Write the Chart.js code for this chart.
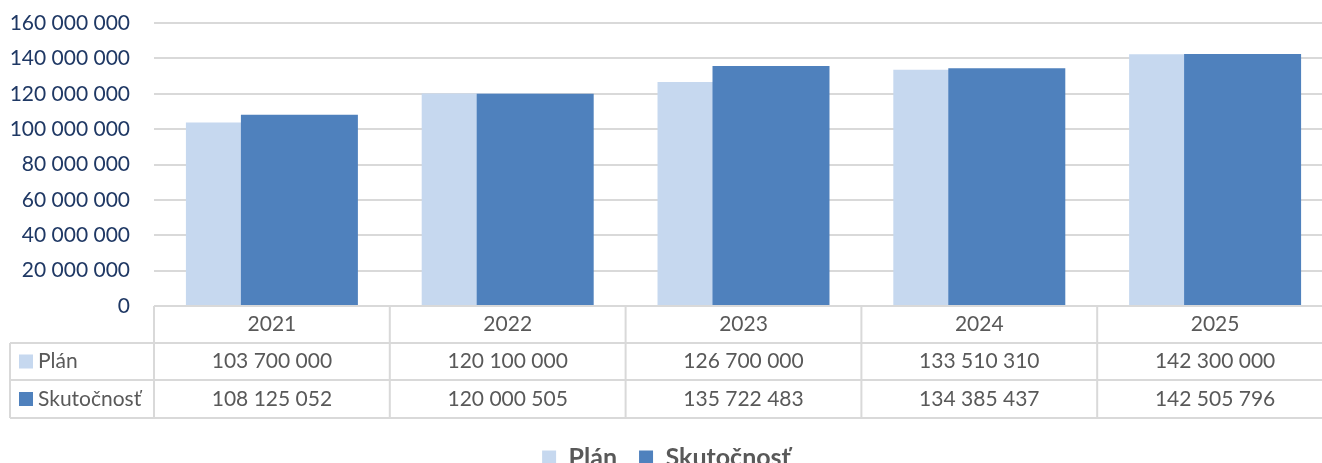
<!DOCTYPE html>
<html>
<head>
<meta charset="utf-8">
<script src="https://cdn.jsdelivr.net/npm/chart.js@4"></script>
<style>
  html, body { margin: 0; padding: 0; background: #fff; overflow: hidden; }
  #wrap { width: 1334px; height: 480px; }
</style>
</head>
<body>
<div id="wrap"><canvas id="myChart" width="1334" height="480"></canvas></div>
<script>
// Données
const years = ["2021", "2022", "2023", "2024", "2025"];
const planValues = [103700000, 120100000, 126700000, 133510310, 142300000];
const actualValues = [108125052, 120000505, 135722483, 134385437, 142505796];
const seriesNames = ["Plán", "Skutočnosť"];

const lightBlue = "#C6D8EF";
const darkBlue = "#4F81BD";
const gridColor = "#D9D9D9";
const textGray = "#595959";
const fontFamily = "Lato, 'Open Sans', sans-serif";

// Format avec espace comme séparateur de milliers
const fmt = (n) => String(n).replace(/\B(?=(\d{3})+(?!\d))/g, " ");

// Dessiner la série "Skutočnosť" par-dessus la série "Plán"
const overlapPlugin = {
  id: "overlapOrder",
  beforeDatasetDraw(chart, args) {
    if (args.index === 1 && !chart._drawingTop) return false;
  },
  afterDatasetsDraw(chart) {
    chart._drawingTop = true;
    chart.getDatasetMeta(1).controller.draw();
    chart._drawingTop = false;
  },
};

// Plugin pour dessiner la table de données sous le graphique
const dataTablePlugin = {
  id: "dataTable",
  afterDraw(chart) {
    const ctx = chart.ctx;
    const area = chart.chartArea;
    const xScale = chart.scales.x;
    const half = (xScale.getPixelForValue(1) - xScale.getPixelForValue(0)) / 2;
    const top = area.bottom;
    const rowH = [37, 37, 38];
    const y1 = top + rowH[0];
    const y2 = y1 + rowH[1];
    const y3 = y2 + rowH[2];
    const tableLeft = 10;

    ctx.save();
    ctx.strokeStyle = gridColor;
    ctx.lineWidth = 2;
    ctx.beginPath();
    // lignes horizontales
    ctx.moveTo(area.left, top); ctx.lineTo(area.right, top);
    [y1, y2, y3].forEach((y) => { ctx.moveTo(tableLeft, y); ctx.lineTo(area.right, y); });
    // lignes verticales
    ctx.moveTo(tableLeft, y1); ctx.lineTo(tableLeft, y3);
    ctx.moveTo(area.left, top); ctx.lineTo(area.left, y3);
    for (let i = 0; i < years.length; i++) {
      const xr = xScale.getPixelForValue(i) + half;
      ctx.moveTo(xr, top); ctx.lineTo(xr, y3);
    }
    ctx.stroke();

    ctx.font = "21px " + fontFamily;
    ctx.fillStyle = textGray;
    ctx.textAlign = "center";
    ctx.textBaseline = "middle";
    years.forEach((yr, i) => {
      const cx = xScale.getPixelForValue(i);
      ctx.fillText(yr, cx, top + rowH[0] / 2);
      ctx.fillText(fmt(planValues[i]), cx, y1 + rowH[1] / 2);
      ctx.fillText(fmt(actualValues[i]), cx, y2 + rowH[2] / 2);
    });

    // légendes des lignes
    ctx.textAlign = "left";
    [[seriesNames[0], lightBlue, y1 + rowH[1] / 2], [seriesNames[1], darkBlue, y2 + rowH[2] / 2]].forEach(([name, col, cy]) => {
      ctx.fillStyle = col;
      ctx.fillRect(19, cy - 7, 14, 14);
      ctx.fillStyle = textGray;
      ctx.fillText(name, 38, cy);
    });
    ctx.restore();
  },
};

const chartOptions = {
  type: "bar",
  data: {
    labels: years,
    datasets: [
      {
        label: seriesNames[0],
        data: planValues,
        backgroundColor: lightBlue,
        categoryPercentage: 0.4665,
        barPercentage: 2.127,
      },
      {
        label: seriesNames[1],
        data: actualValues,
        backgroundColor: darkBlue,
        categoryPercentage: 0.4665,
        barPercentage: 2.127,
      },
    ],
  },
  options: {
    responsive: false,
    animation: false,
    layout: { padding: { top: 23, right: 1, left: 0, bottom: 0 } },
    plugins: {
      tooltip: { enabled: false },
      legend: {
        position: "bottom",
        labels: {
          boxWidth: 14,
          boxHeight: 14,
          padding: 22,
          color: textGray,
          font: { family: fontFamily, size: 25, weight: "bold" },
        },
      },
    },
    scales: {
      x: {
        grid: { display: false },
        border: { display: false },
        ticks: { display: false },
        afterFit: (scale) => { scale.height = 117; },
      },
      y: {
        min: 0,
        max: 160000000,
        grid: {
          color: gridColor,
          lineWidth: 2,
          drawTicks: true,
          tickLength: 24,
          tickColor: "rgba(0,0,0,0)",
        },
        border: { display: false },
        ticks: {
          stepSize: 20000000,
          padding: 0,
          color: "#1F3864",
          font: { family: fontFamily, size: 21 },
          callback: (v) => fmt(v),
        },
        afterFit: (scale) => { scale.width = 154; },
      },
    },
  },
  plugins: [overlapPlugin, dataTablePlugin],
};

const ctx = document.getElementById("myChart").getContext("2d");
const myChart = new Chart(ctx, chartOptions);
</script>
</body>
</html>
